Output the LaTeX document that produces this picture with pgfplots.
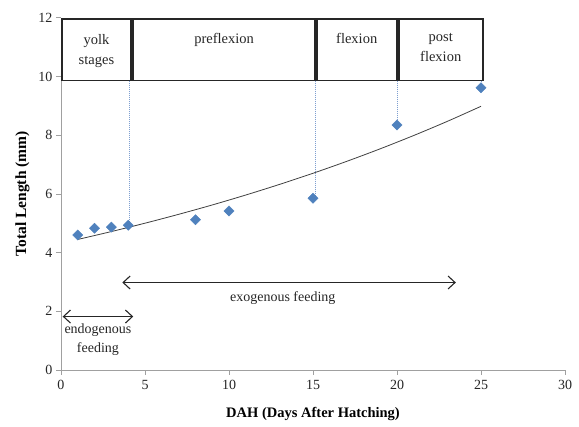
\documentclass[border=0pt]{standalone}
\usepackage{fontspec}
\setmainfont{Liberation Serif}
\usepackage{pgfplots}
\pgfplotsset{compat=1.18}
\usetikzlibrary{arrows.meta}
\definecolor{ptblue}{HTML}{4F81BD}
\definecolor{axgray}{HTML}{A0A0A0}
\definecolor{dotblue}{HTML}{7F9FD0}
\begin{document}
\begin{tikzpicture}
\begin{axis}[
  width=504pt, height=352pt, scale only axis,
  xmin=0, xmax=30, ymin=0, ymax=12,
  xtick={0,5,...,30}, ytick={0,2,...,12},
  xticklabels={0,5,10,15,20,25,30},
  yticklabels={0,2,4,6,8,10,12},
  axis x line*=bottom, axis y line*=left,
  axis line style={axgray, line width=0.8pt},
  tick style={axgray, line width=0.8pt},
  tick align=outside, major tick length=5pt,
  ticklabel style={font=\fontsize{14}{14}\selectfont, black!85},
  xticklabel style={yshift=-2pt},
  xlabel={DAH (Days After Hatching)},
  ylabel={Total Length (mm)},
  xlabel style={font=\fontsize{14.5}{16}\selectfont\bfseries, yshift=-10pt},
  ylabel style={font=\fontsize{15.5}{16}\selectfont\bfseries, yshift=2pt},
  clip=false,
]
% reference frame
\path (axis cs:-3.63,-1.94) rectangle (axis cs:30.83,12.61);
% stage boxes
\draw[line width=1.6pt, black!85] (axis cs:0.05,11.97) rectangle (axis cs:4.17,9.86);
\draw[line width=1.6pt, black!85] (axis cs:4.30,11.97) rectangle (axis cs:15.12,9.86);
\draw[line width=1.6pt, black!85] (axis cs:15.25,11.97) rectangle (axis cs:19.98,9.86);
\draw[line width=1.6pt, black!85] (axis cs:20.12,11.97) rectangle (axis cs:25.10,9.86);
\node[align=center, anchor=north, font=\fontsize{14.5}{20}\selectfont, black!85] at (axis cs:2.11,11.55) {yolk\\stages};
\node[align=center, anchor=north, font=\fontsize{14.5}{20}\selectfont, black!85] at (axis cs:9.71,11.58) {preflexion};
\node[align=center, anchor=north, font=\fontsize{14.5}{20}\selectfont, black!85] at (axis cs:17.6,11.58) {flexion};
\node[align=center, anchor=north, font=\fontsize{14.5}{20}\selectfont, black!85] at (axis cs:22.6,11.58) {post\\flexion};
% dotted drop lines
\draw[dotblue, densely dotted, line width=1pt] (axis cs:4.1,9.86) -- (axis cs:4.1,4.93);
\draw[dotblue, densely dotted, line width=1pt] (axis cs:15.15,9.86) -- (axis cs:15.15,5.85);
\draw[dotblue, densely dotted, line width=1pt] (axis cs:20.05,9.86) -- (axis cs:20.05,8.35);
\draw[dotblue, densely dotted, line width=1pt] (axis cs:25.05,9.86) -- (axis cs:25.05,9.62);
% feeding arrows
\draw[{Straight Barb[length=7pt,width=13pt]}-{Straight Barb[length=7pt,width=13pt]}, line width=1.1pt, black!85] (axis cs:0.1,1.82) -- (axis cs:4.3,1.82);
\node[align=center, anchor=north, font=\fontsize{14}{19}\selectfont, black!85] at (axis cs:2.2,1.68) {endogenous\\feeding};
\draw[{Straight Barb[length=7pt,width=13pt]}-{Straight Barb[length=7pt,width=13pt]}, line width=1.1pt, black!85] (axis cs:3.65,2.98) -- (axis cs:23.5,2.98);
\node[anchor=north, font=\fontsize{14}{16}\selectfont, black!85] at (axis cs:13.2,2.78) {exogenous feeding};
% trendline
\addplot[black!75, line width=0.8pt, smooth] coordinates {
 (1,4.448) (3,4.717) (5,5.002) (7,5.304) (9,5.623) (11,5.963) (13,6.323)
 (15,6.704) (17,7.109) (19,7.538) (21,7.993) (23,8.475) (25,8.987)};
% data
\addplot[only marks, mark=square*, mark size=3.6pt, mark options={rotate=45, fill=ptblue, draw=ptblue}] coordinates {
 (1,4.60) (2,4.83) (3,4.87) (4,4.93) (8,5.12) (10,5.42) (15,5.85) (20,8.35) (25,9.62)};
\end{axis}
\end{tikzpicture}
\end{document}
